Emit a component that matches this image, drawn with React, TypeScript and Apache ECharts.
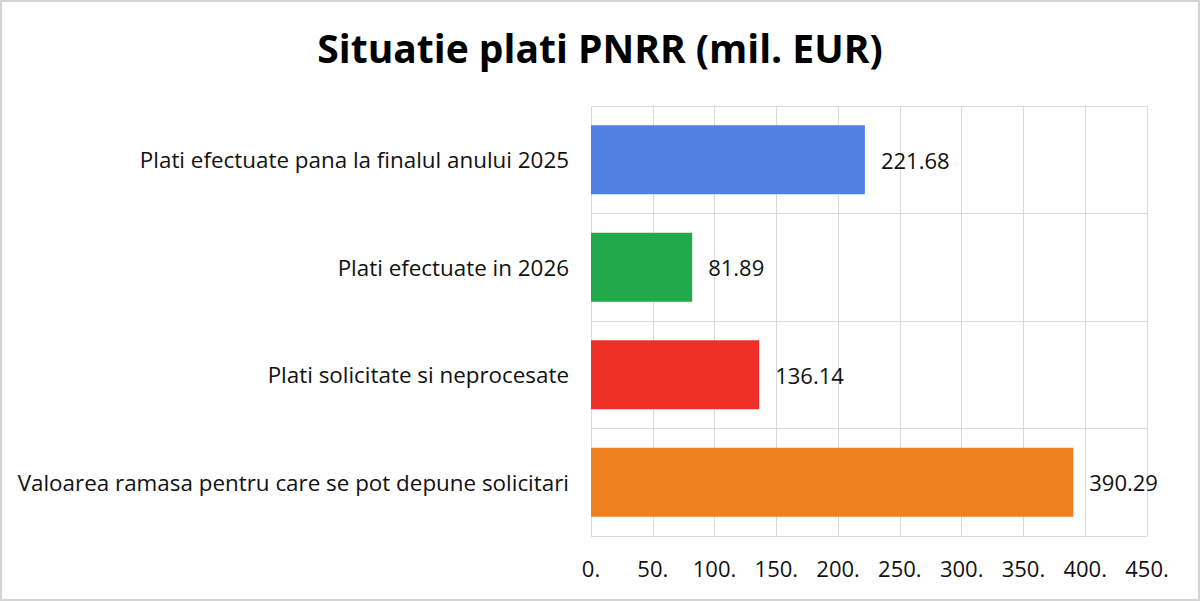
import React, { useEffect, useRef } from 'react';
import * as echarts from 'echarts';

const categories = [
    'Plati efectuate pana la finalul anului 2025',
    'Plati efectuate in 2026',
    'Plati solicitate si neprocesate',
    'Valoarea ramasa pentru care se pot depune solicitari',
];
const values = [221.68, 81.89, 136.14, 390.29];
const barColors = ['#5081E2', '#21A84B', '#EE3026', '#EE8020'];

const FONT = '"Open Sans"';

const App: React.FC = () => {
    const chartRef = useRef<HTMLDivElement>(null);

    useEffect(() => {
        if (!chartRef.current) return;
        const chart = echarts.init(chartRef.current, null, { renderer: 'svg' });

        chart.setOption({
            animation: false,
            backgroundColor: '#ffffff',
            title: {
                text: 'Situatie plati PNRR (mil. EUR)',
                left: 'center',
                top: 23,
                textStyle: {
                    fontFamily: FONT,
                    fontWeight: 'bold',
                    fontSize: 39,
                    color: '#000000',
                },
            },
            graphic: [
                {
                    type: 'rect',
                    shape: { x: 1, y: 1, width: 1198, height: 599 },
                    style: { fill: 'none', stroke: '#d4d4d4', lineWidth: 2 },
                    silent: true,
                },
            ],
            grid: {
                left: 591,
                right: 53,
                top: 106,
                bottom: 65,
            },
            xAxis: {
                type: 'value',
                min: 0,
                max: 450,
                interval: 50,
                axisLine: { show: false },
                axisTick: { show: false },
                axisLabel: {
                    margin: 21,
                    fontFamily: FONT,
                    fontSize: 22,
                    color: '#111111',
                    formatter: (v: number) => `${v}.`,
                },
                splitLine: { lineStyle: { color: '#d9d9d9', width: 1 } },
            },
            yAxis: {
                type: 'category',
                inverse: true,
                data: categories,
                axisLine: { show: false },
                axisTick: { show: false },
                axisLabel: {
                    margin: 22,
                    fontFamily: FONT,
                    fontSize: 22.4,
                    color: '#111111',
                },
                splitLine: { show: true, lineStyle: { color: '#d9d9d9', width: 1 } },
            },
            series: [
                {
                    type: 'bar',
                    data: values.map((v, i) => ({ value: v, itemStyle: { color: barColors[i] } })),
                    barWidth: '64%',
                    label: {
                        show: true,
                        position: 'right',
                        distance: 16,
                        fontFamily: FONT,
                        fontSize: 22,
                        color: '#111111',
                        formatter: (p: any) => p.value.toFixed(2),
                    },
                },
            ],
        });

        return () => {
            chart.dispose();
        };
    }, []);

    return (
        <div
            ref={chartRef}
            style={{ position: 'absolute', left: 0, top: 0, width: '1200px', height: '601px' }}
        />
    );
};

export default App;
